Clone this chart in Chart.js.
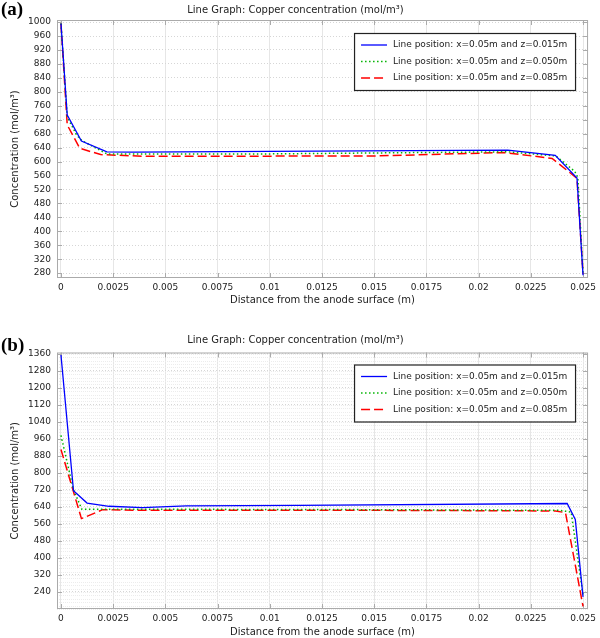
<!DOCTYPE html>
<html>
<head>
<meta charset="utf-8">
<script src="https://cdn.jsdelivr.net/npm/chart.js@4.4.0/dist/chart.umd.min.js"></script>
<style>
  body { margin: 0; background: #fff; }
  .panel { position: relative; width: 600px; height: 319px; }
  .tag { position: absolute; left: 1px; font: bold 19px/19px "Liberation Serif", "DejaVu Serif", serif; color: #000; }
</style>
</head>
<body>
<div class="panel"><canvas id="chartA" width="600" height="319"></canvas><div class="tag" style="top:-1px">(a)</div></div>
<div class="panel"><canvas id="chartB" width="600" height="319"></canvas><div class="tag" style="top:16px">(b)</div></div>
<script>
var seriesNames = [
  'Line position: x=0.05m and z=0.015m',
  'Line position: x=0.05m and z=0.050m',
  'Line position: x=0.05m and z=0.085m'
];

var xTicks = [0, 0.0025, 0.005, 0.0075, 0.01, 0.0125, 0.015, 0.0175, 0.02, 0.0225, 0.025];
var yTicksA = [280, 320, 360, 400, 440, 480, 520, 560, 600, 640, 680, 720, 760, 800, 840, 880, 920, 960, 1000];
var yTicksB = [240, 320, 400, 480, 560, 640, 720, 800, 880, 960, 1040, 1120, 1200, 1280, 1360];

// (a) distance (m) / concentration (mol/m3)
var distA1 = [0, 0.0003, 0.00098, 0.0022, 0.0035, 0.01, 0.0214, 0.02367, 0.02471, 0.025];
var concA1 = [996, 733, 659, 628, 627, 629, 633, 618, 553, 274];
var distA2 = [0, 0.0003, 0.00075, 0.001, 0.0022, 0.01, 0.0214, 0.0237, 0.0246, 0.02475, 0.025];
var concA2 = [996, 728, 676, 660, 622, 622, 628, 616, 572, 555, 276];
var distA3 = [0, 0.0003, 0.0009, 0.0019, 0.004, 0.015, 0.0212, 0.02352, 0.02471, 0.025];
var concA3 = [996, 705, 638, 620, 615, 616, 626, 609, 552, 278];

// (b)
var distB1 = [0, 0.0006, 0.00125, 0.0023, 0.0039, 0.006, 0.0114, 0.02424, 0.02463, 0.025];
var concB1 = [1354, 716, 658, 643, 637, 645, 647, 656, 581, 217];
var distB2 = [0, 0.0006, 0.001, 0.002, 0.012, 0.02384, 0.02443, 0.025];
var concB2 = [976, 720, 629, 629, 628, 624, 616, 226];
var distB3 = [0, 0.00098, 0.002, 0.004, 0.015, 0.02368, 0.02416, 0.025];
var concB3 = [910, 585, 627, 624, 624, 621, 613, 172];

var lineColors = ['#0000ff', '#00b400', '#ff0000'];
var lineDashes = [[], [1.5, 2.5], [9, 4]];

function points(xs, ys) {
  return xs.map(function (x, i) { return { x: x, y: ys[i] }; });
}

var legendBox = {
  id: 'legendBox',
  afterDraw: function (chart, args, opts) {
    var ctx = chart.ctx, a = chart.chartArea;
    var w = 221, h = 57, left = a.right - 13 - w, top = a.top + opts.top;
    ctx.save();
    ctx.fillStyle = '#fff';
    ctx.fillRect(left, top, w, h);
    ctx.strokeStyle = '#222';
    ctx.lineWidth = 1.2;
    ctx.strokeRect(left + 0.5, top + 0.5, w, h);
    chart.data.datasets.forEach(function (ds, i) {
      var y = top + 12 + i * 16.5;
      ctx.beginPath();
      ctx.setLineDash(ds.borderDash);
      ctx.strokeStyle = ds.borderColor;
      ctx.lineWidth = ds.borderWidth;
      ctx.moveTo(left + 7, y);
      ctx.lineTo(left + 33, y);
      ctx.stroke();
      ctx.setLineDash([]);
      ctx.fillStyle = '#222';
      ctx.font = '9px "DejaVu Sans"';
      ctx.textBaseline = 'middle';
      ctx.fillText(ds.label, left + 39, y);
    });
    ctx.restore();
  }
};

var frame = {
  id: 'frame',
  beforeDatasetsDraw: function (chart, args, opts) {
    var ctx = chart.ctx, a = chart.chartArea, sx = chart.scales.x, sy = chart.scales.y;
    ctx.save();
    if (opts.minorStep) {
      ctx.strokeStyle = '#ececec';
      ctx.lineWidth = 1;
      ctx.setLineDash([1, 1]);
      for (var v = Math.ceil(sy.min / opts.minorStep) * opts.minorStep; v < sy.max; v += opts.minorStep) {
        var py = Math.round(sy.getPixelForValue(v)) + 0.5;
        ctx.beginPath(); ctx.moveTo(a.left, py); ctx.lineTo(a.right, py); ctx.stroke();
      }
      ctx.setLineDash([]);
    }
    ctx.strokeStyle = '#aaa';
    ctx.lineWidth = 1;
    ctx.strokeRect(a.left + 0.5, a.top + 0.5, a.width - 1, a.height - 1);
    ctx.beginPath();
    xTicks.forEach(function (t) {
      var px = Math.round(sx.getPixelForValue(t)) + 0.5;
      ctx.moveTo(px, a.bottom); ctx.lineTo(px, a.bottom - 5);
      ctx.moveTo(px, a.top); ctx.lineTo(px, a.top + 5);
    });
    sy.ticks.forEach(function (t) {
      var py = Math.round(sy.getPixelForValue(t.value)) + 0.5;
      ctx.moveTo(a.left, py); ctx.lineTo(a.left + 5, py);
      ctx.moveTo(a.right, py); ctx.lineTo(a.right - 5, py);
    });
    ctx.stroke();
    ctx.restore();
  }
};

function makeChart(id, dists, concs, o) {
  var datasets = seriesNames.map(function (name, i) {
    return {
      label: name,
      data: points(dists[i], concs[i]),
      showLine: true,
      borderColor: lineColors[i],
      borderWidth: i == 0 ? 1.3 : 1.5,
      borderDash: lineDashes[i],
      pointRadius: 0,
      tension: 0
    };
  });
  var font = { family: 'DejaVu Sans', size: 9 };
  return new Chart(document.getElementById(id), {
    type: 'scatter',
    data: { datasets: datasets },
    plugins: [frame, legendBox],
    options: {
      responsive: false,
      animation: false,
      devicePixelRatio: 1,
      layout: { padding: { left: 0, right: 9, top: 0, bottom: 0 } },
      plugins: {
        legend: { display: false },
        tooltip: { enabled: false },
        title: {
          display: true,
          text: 'Line Graph: Copper concentration (mol/m³)',
          color: '#222',
          font: { family: 'DejaVu Sans', size: 10, weight: 'normal' },
          padding: o.titlePad
        },
        legendBox: { top: o.legendTop },
        frame: { minorStep: o.minorStep }
      },
      scales: {
        x: {
          type: 'linear',
          min: -0.00019,
          max: 0.02524,
          afterBuildTicks: function (s) { s.ticks = xTicks.map(function (v) { return { value: v }; }); },
          afterFit: function (s) { s.height = o.xHeight; },
          ticks: { color: '#222', font: font, padding: 4, maxRotation: 0, autoSkip: false,
                   callback: function (v) { return String(v); } },
          grid: { color: '#e6e6e6', drawTicks: false },
          border: { display: false },
          title: { display: true, text: 'Distance from the anode surface (m)', color: '#222',
                   font: { family: 'DejaVu Sans', size: 10 }, padding: { top: 0, bottom: o.xTitlePad } }
        },
        y: {
          min: o.yMin,
          max: o.yMax,
          afterBuildTicks: function (s) { s.ticks = o.yTicks.map(function (v) { return { value: v }; }); },
          afterFit: function (s) { s.width = 57; },
          ticks: { color: '#222', font: font, padding: 6, autoSkip: false,
                   callback: function (v) { return String(v); } },
          grid: { color: '#d6d6d6', drawTicks: false },
          border: { display: false, dash: [1, 2] },
          title: { display: true, text: 'Concentration (mol/m³)', color: '#222',
                   font: { family: 'DejaVu Sans', size: 10 }, padding: { top: 9, bottom: 0 } }
        }
      }
    }
  });
}

makeChart('chartA', [distA1, distA2, distA3], [concA1, concA2, concA3], {
  yMin: 266, yMax: 1006, yTicks: yTicksA,
  titlePad: { top: 4, bottom: 4 }, xHeight: 41, xTitlePad: 13, legendTop: 13, minorStep: 0
});
makeChart('chartB', [distB1, distB2, distB3], [concB1, concB2, concB3], {
  yMin: 160, yMax: 1366, yTicks: yTicksB,
  titlePad: { top: 15, bottom: 6.5 }, xHeight: 29, xTitlePad: 0, legendTop: 12, minorStep: 16
});
</script>
</body>
</html>
